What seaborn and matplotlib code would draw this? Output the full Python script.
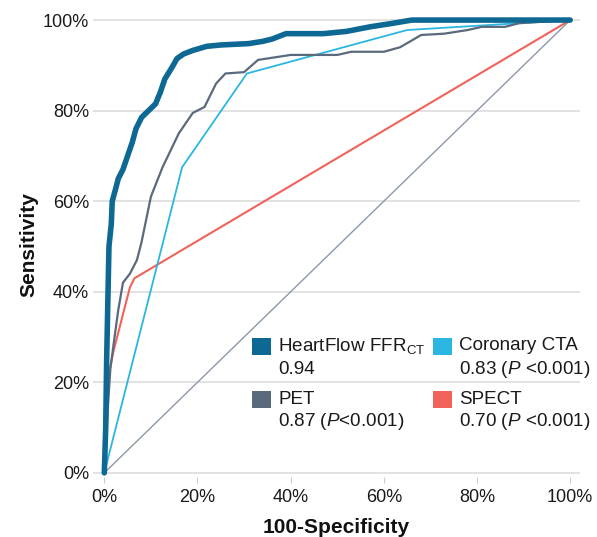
import pandas as pd
import numpy as np
import seaborn as sns
from matplotlib import pyplot as plt
from matplotlib.patches import Rectangle

# ROC curves (x = 100-specificity, y = sensitivity, in %)
hf_x = [0, 0.3, 0.5, 0.8, 1.0, 1.5, 1.7, 2.5, 3, 4, 5, 6, 6.8, 8, 9.5, 11, 12, 13, 14.5,
        15.6, 17, 19, 22, 25, 31, 34, 36, 39, 47, 52, 57, 62, 66, 100]
hf_y = [0, 10, 25, 40, 50, 55, 60, 63, 65, 67, 70, 73, 76, 78.5, 80, 81.5, 84, 87, 89.5,
        91.5, 92.5, 93.3, 94.2, 94.5, 94.8, 95.3, 95.8, 97, 97, 97.5, 98.5, 99.3, 100, 100]

pet_x = [0, 0.8, 1.3, 2.2, 3, 4, 5.5, 7, 8, 9, 10, 12.5, 16, 19, 21.5, 24, 26, 30, 33, 40,
         50, 53, 60, 63.5, 68, 73, 78, 81, 86, 89, 100]
pet_y = [0, 15, 23, 30, 36, 42, 44, 47, 51, 56, 61, 67.5, 75, 79.5, 80.8, 86, 88.2, 88.5,
         91.2, 92.3, 92.3, 93, 93, 94, 96.7, 97, 97.8, 98.5, 98.5, 99.3, 100]

cta_x = [0, 16.7, 30.6, 65, 100]
cta_y = [0, 67.5, 88.2, 97.8, 100]

spect_x = [0, 0.5, 1, 2, 4, 5.5, 6.5, 100]
spect_y = [0, 15, 22, 27, 35, 41, 43, 100]

ref_x = [0, 100]
ref_y = [0, 100]

names = ['HeartFlow FFR$_\\mathregular{CT}$', 'Coronary CTA', 'PET', 'SPECT']
aucs = ['0.94', '0.83 ($P$ <0.001)', '0.87 ($P$<0.001)', '0.70 ($P$ <0.001)']
colors = ['#0d6894', '#2bb6e1', '#5a6a7c', '#f0625a']

sns.set_style('white')
plt.rcParams['font.family'] = ['Liberation Sans', 'DejaVu Sans']
plt.rcParams['mathtext.fontset'] = 'custom'
plt.rcParams['mathtext.rm'] = 'Liberation Sans'
plt.rcParams['mathtext.it'] = 'Liberation Sans:italic'

fig = plt.figure(figsize=(5.97, 5.37), dpi=100)
ax = fig.add_axes([0.156, 0.111, 0.8155, 0.8685])

sns.lineplot(x=ref_x, y=ref_y, ax=ax, color='#8c98aa', lw=1.0, sort=False, estimator=None)
sns.lineplot(x=spect_x, y=spect_y, ax=ax, color=colors[3], lw=1.5, sort=False, estimator=None)
sns.lineplot(x=cta_x, y=cta_y, ax=ax, color=colors[1], lw=1.3, sort=False, estimator=None)
sns.lineplot(x=pet_x, y=pet_y, ax=ax, color=colors[2], lw=1.6, sort=False, estimator=None)
sns.lineplot(x=hf_x, y=hf_y, ax=ax, color=colors[0], lw=4.0, sort=False, estimator=None)

ax.set_xlim(-2.4, 102.1)
ax.set_ylim(-1, 102)
ax.set_xticks(range(0, 101, 20))
ax.set_yticks(range(0, 101, 20))
ax.set_xticklabels([f'{v}%' for v in range(0, 101, 20)], fontsize=13, color='#1a1a1a')
ax.set_yticklabels([f'{v}%' for v in range(0, 101, 20)], fontsize=13, color='#1a1a1a')
ax.yaxis.grid(True, color='#dddddd', lw=1.2)
ax.set_axisbelow(True)
ax.tick_params(axis='x', length=4, width=0.8, color='#cccccc', pad=4, bottom=True)
ax.tick_params(axis='y', length=0, pad=3)
for s in ax.spines.values():
    s.set_visible(False)

ax.set_xlabel('100-Specificity', fontsize=15, fontweight='bold', labelpad=9, color='#111111')
ax.set_ylabel('Sensitivity', fontsize=15, fontweight='bold', labelpad=3, color='#111111')

# legend, two columns drawn on the figure
W, H = 597, 537
spots = [(252, 338), (433, 338), (252, 391), (433, 391)]
for (px, py), name, auc, c in zip(spots, names, aucs, colors):
    fig.patches.append(Rectangle((px / W, 1 - (py + 17) / H), 19 / W, 17 / H,
                                 transform=fig.transFigure, color=c, lw=0))
    fig.text((px + 26) / W, 1 - (py + 8) / H, name, fontsize=13.6, va='center', color='#1a1a1a')
    fig.text((px + 26) / W, 1 - (py + 31) / H, auc, fontsize=13.6, va='center', color='#1a1a1a')

fig.savefig('out.png', dpi=100)
